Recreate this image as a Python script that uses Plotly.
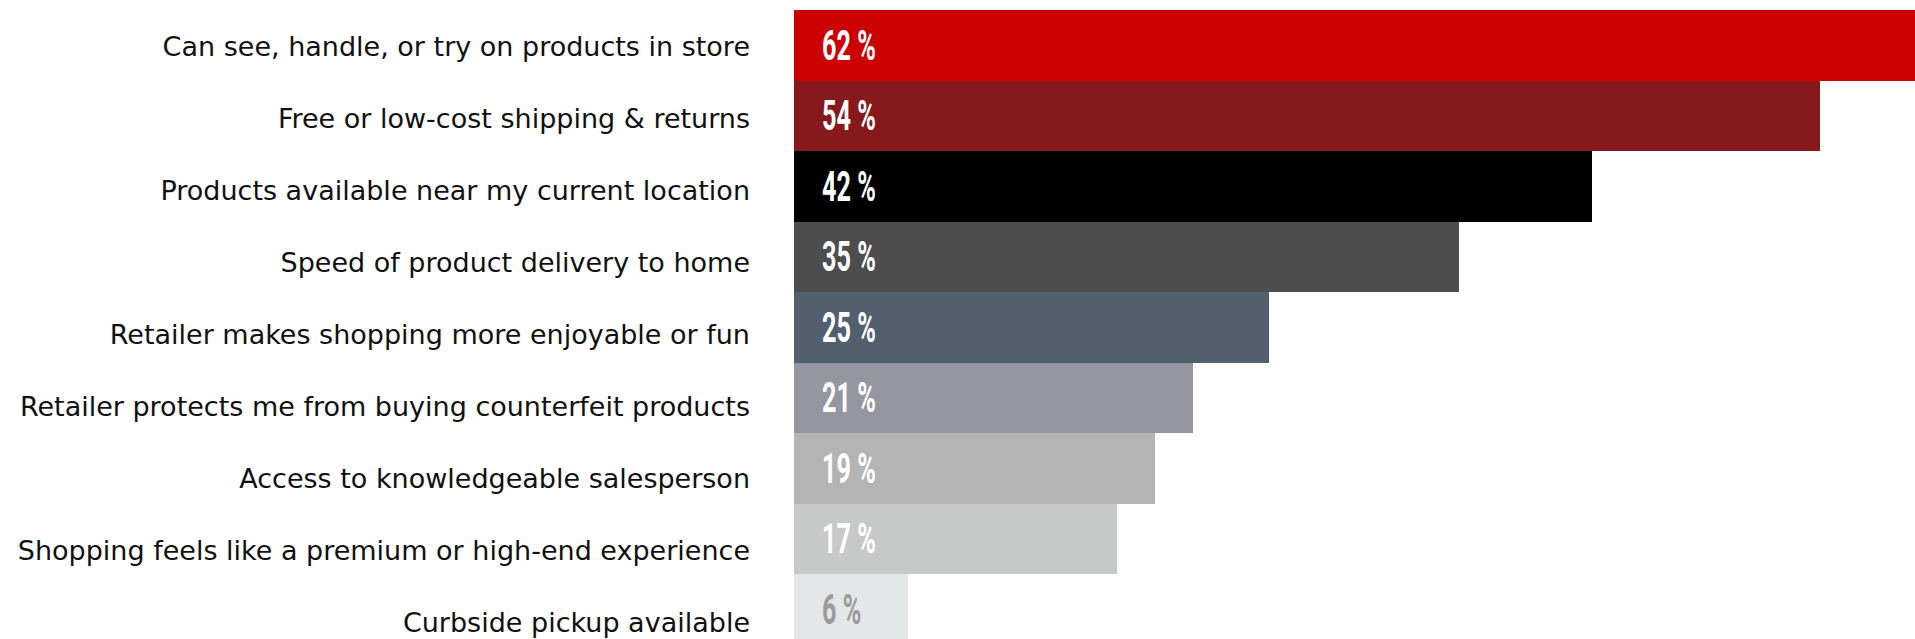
import plotly.graph_objects as go

categories = [
    "Can see, handle, or try on products in store",
    "Free or low-cost shipping & returns",
    "Products available near my current location",
    "Speed of product delivery to home",
    "Retailer makes shopping more enjoyable or fun",
    "Retailer protects me from buying counterfeit products",
    "Access to knowledgeable salesperson",
    "Shopping feels like a premium or high-end experience",
    "Curbside pickup available",
]
values = [62, 54, 42, 35, 25, 21, 19, 17, 6]
bar_colors = ["#CC0000", "#87191D", "#000000", "#4D4D4D", "#525F6F",
              "#94979F", "#B4B4B4", "#C7C9C8", "#E3E7E8"]
label_colors = ["#FFFFFF"] * 8 + ["#9B9B9B"]

positions = list(range(len(categories)))

fig = go.Figure()
fig.add_trace(
    go.Bar(
        x=values,
        y=positions,
        orientation="h",
        marker=dict(color=bar_colors, line=dict(width=0)),
        width=1.0,
        hoverinfo="skip",
    )
)
# carrier for the category axis on the left (draws nothing itself)
fig.add_trace(
    go.Scatter(x=[0] * len(positions), y=positions, yaxis="y2",
               mode="none", hoverinfo="skip", showlegend=False)
)

# value labels sit near the left end of each bar
for pos, val, col in zip(positions, values, label_colors):
    fig.add_annotation(
        x=0, y=pos, xref="x", yref="y",
        text=f"{val} %",
        showarrow=False,
        xanchor="left", yanchor="middle",
        xshift=26,
        font=dict(family="Roboto, sans-serif", size=42, color=col, weight="bold"),
    )

fig.update_layout(
    width=1915, height=639,
    margin=dict(l=794, r=0, t=10, b=0),
    paper_bgcolor="white", plot_bgcolor="white",
    bargap=0,
    showlegend=False,
    xaxis=dict(range=[0, 59], visible=False, fixedrange=True),
    yaxis=dict(range=[8.42, -0.5], visible=False, fixedrange=True),
    yaxis2=dict(
        overlaying="y", side="left", anchor="x",
        range=[8.2225, -0.5065],
        tickmode="array",
        tickvals=positions,
        ticktext=categories,
        showgrid=False, zeroline=False, showline=False,
        ticks="", ticklabelstandoff=43,
        tickfont=dict(family="DejaVu Sans, sans-serif", size=27, color="#111111"),
        fixedrange=True,
    ),
)

# narrow the percentage labels into a condensed display style
condense = """
document.querySelectorAll('.annotation-text').forEach(function (t) {
  t.style.transformBox = 'fill-box';
  t.style.transformOrigin = 'left center';
  t.style.transform = 'scaleX(0.6)';
});
"""

fig.write_html("out.html", config={"displayModeBar": False}, post_script=condense)
